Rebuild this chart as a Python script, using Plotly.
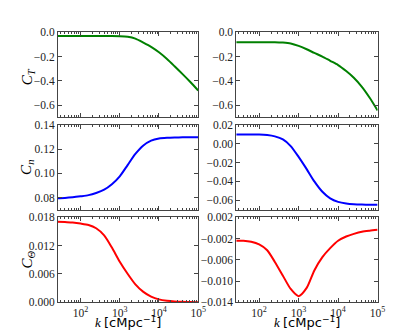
import plotly.graph_objects as go

# wavenumber samples [cMpc^-1]
k = [25, 40, 63, 100, 160, 250, 400, 630, 1000, 1600, 2500, 4000, 6300,
     10000, 16000, 25000, 40000, 63000, 100000]

# left column
ct_left = [-0.031, -0.031, -0.031, -0.031, -0.031, -0.031, -0.031, -0.031, -0.032,
           -0.037, -0.052, -0.085, -0.12, -0.165, -0.22, -0.28, -0.345, -0.41, -0.48]
cn_left = [0.0795, 0.0797, 0.0802, 0.081, 0.082, 0.0838, 0.0865, 0.091, 0.0975,
           0.107, 0.116, 0.123, 0.127, 0.1288, 0.1294, 0.1296, 0.1297, 0.1297, 0.1297]
cth_left = [0.0171, 0.0170, 0.0169, 0.0167, 0.0164, 0.0157, 0.0142, 0.0116, 0.0086,
            0.0060, 0.0038, 0.0022, 0.0012, 0.0006, 0.0003, 0.00015, 0.00008, 0.00004, 0.00002]

# right column
ct_right = [-0.082, -0.082, -0.082, -0.082, -0.082, -0.082, -0.085, -0.092, -0.112,
            -0.14, -0.17, -0.2, -0.235, -0.27, -0.32, -0.375, -0.45, -0.54, -0.645]
cn_right = [0.0098, 0.0097, 0.0097, 0.0097, 0.0092, 0.0078, 0.0045, -0.0025, -0.014,
            -0.027, -0.040, -0.051, -0.058, -0.0617, -0.0635, -0.0643, -0.0646, -0.0647, -0.0647]
cth_right = [-0.0024, -0.0024, -0.0026, -0.0031, -0.0042, -0.0064, -0.0090, -0.0115, -0.01285,
             -0.0113, -0.0080, -0.0055, -0.0038, -0.0024, -0.0016, -0.0011, -0.0007, -0.0005, -0.00035]

x_ticks = [100, 1000, 10000, 100000]
x_labels = ["10<sup>2</sup>", "10<sup>3</sup>", "10<sup>4</sup>", "10<sup>5</sup>"]

panels = [
    # (series, colour, row, col, y range, tick values, tick labels)
    (ct_left, "#008000", 1, 1, [-0.7, 0], [0, -0.2, -0.4, -0.6], ["0.0", "−0.2", "−0.4", "−0.6"]),
    (ct_right, "#008000", 1, 2, [-0.7, 0], [0, -0.2, -0.4, -0.6], ["0.0", "−0.2", "−0.4", "−0.6"]),
    (cn_left, "#0000ff", 2, 1, [0.07, 0.14], [0.08, 0.10, 0.12, 0.14], ["0.08", "0.10", "0.12", "0.14"]),
    (cn_right, "#0000ff", 2, 2, [-0.07, 0.02], [-0.06, -0.04, -0.02, 0.0, 0.02],
     ["−0.06", "−0.04", "−0.02", "0.00", "0.02"]),
    (cth_left, "#ff0000", 3, 1, [0, 0.018], [0, 0.006, 0.012, 0.018], ["0.000", "0.006", "0.012", "0.018"]),
    (cth_right, "#ff0000", 3, 2, [-0.014, 0.002], [-0.014, -0.010, -0.006, -0.002, 0.002],
     ["−0.014", "−0.010", "−0.006", "−0.002", "0.002"]),
]

W, H = 407, 333
col_px = {1: (51, 194), 2: (233, 377)}
row_px = {1: (19, 107), 2: (115, 203), 3: (211, 299)}

tick_font = dict(family="Liberation Serif", size=11.5, color="#222")

fig = go.Figure()
layout = {}
for i, (vals, colour, row, col, yr, yt, ytl) in enumerate(panels):
    n = "" if i == 0 else str(i + 1)
    fig.add_trace(go.Scatter(x=k, y=vals, mode="lines",
                             line=dict(color=colour, width=2, shape="spline", smoothing=0.7),
                             xaxis="x" + n, yaxis="y" + n, showlegend=False))
    x0, x1 = col_px[col]
    y0, y1 = row_px[row]
    layout["xaxis" + n] = dict(
        type="log", range=[1.425, 5], domain=[x0 / W, x1 / W], anchor="y" + n,
        showgrid=False, zeroline=False, showline=True, linecolor="#444", linewidth=1, mirror="ticks",
        ticks="inside", ticklen=4, tickcolor="#444", tickvals=x_ticks,
        ticktext=x_labels, showticklabels=(row == 3), tickfont=tick_font,
        minor=dict(ticks="inside", ticklen=2, tickcolor="#444", dtick="D1", showgrid=False),
    )
    layout["yaxis" + n] = dict(
        range=yr, domain=[1 - y1 / H, 1 - y0 / H], anchor="x" + n,
        showgrid=False, zeroline=False, showline=True, linecolor="#444", linewidth=1, mirror="ticks",
        ticks="inside", ticklen=4, tickcolor="#444", tickvals=yt, ticktext=ytl, tickfont=tick_font,
    )

fig.update_layout(width=W, height=H, autosize=False, margin=dict(l=0, r=0, t=0, b=0),
                  plot_bgcolor="white", paper_bgcolor="white", **layout)

ylabels = [("<i>C<sub>T</sub></i>", 65), ("<i>C<sub>n</sub></i>", 159), ("<i>C<sub>Θ</sub></i>", 255)]
for text, yc in ylabels:
    fig.add_annotation(text=text, x=20 / W, y=1 - yc / H, xref="paper", yref="paper",
                       xanchor="center", yanchor="middle",
                       showarrow=False, textangle=-90, font=dict(family="Liberation Serif", size=15, color="black"))

xlabel = "<i>k</i> <span style='font-family:DejaVu Sans'>[cMpc<sup>−1</sup>]</span>"
for col in (1, 2):
    x0, x1 = col_px[col]
    fig.add_annotation(text=xlabel, x=(x0 + x1) / 2 / W, y=1 - 319 / H, xref="paper", yref="paper",
                       xanchor="center", yanchor="middle",
                       showarrow=False, font=dict(family="Liberation Serif", size=13, color="black"))

fig.write_html("out.html")
